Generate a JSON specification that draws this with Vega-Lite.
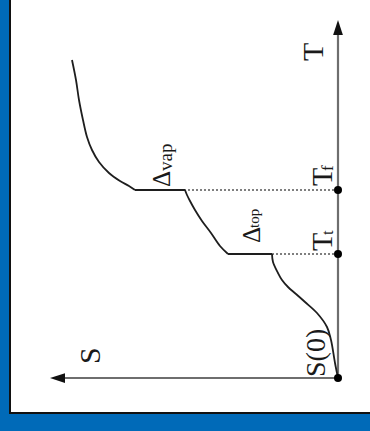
{
  "$schema": "https://vega.github.io/schema/vega-lite/v6.json",
  "width": 362,
  "height": 415,
  "autosize": "none",
  "padding": {"left": 10, "top": -2, "right": -2, "bottom": 18},
  "background": "#006ab8",
  "config": {
    "view": {"fill": "white", "stroke": "#111111", "strokeWidth": 2}
  },
  "encoding": {
    "x": {"field": "S", "type": "quantitative", "scale": {"domain": [-34, 328], "reverse": true, "nice": false, "zero": false}, "axis": null},
    "y": {"field": "T", "type": "quantitative", "scale": {"domain": [-35, 380], "nice": false, "zero": false}, "axis": null}
  },
  "layer": [
    {
      "data": {"values": [
        {"S": 0, "T": 0, "S2": 282, "T2": 0},
        {"S": 0, "T": 0, "S2": 0, "T2": 346}
      ]},
      "mark": {"type": "rule", "color": "#6e6e6e", "strokeWidth": 2.2},
      "encoding": {"x2": {"field": "S2"}, "y2": {"field": "T2"}}
    },
    {
      "data": {"values": [
        {"S": 0, "T": 124, "S2": 66, "T2": 124},
        {"S": 0, "T": 188, "S2": 153, "T2": 188}
      ]},
      "mark": {"type": "rule", "color": "#555555", "strokeWidth": 1.5, "strokeDash": [2, 2]},
      "encoding": {"x2": {"field": "S2"}, "y2": {"field": "T2"}}
    },
    {
      "data": {"values": [
        {"seg": "a", "i": 0, "S": 0, "T": 0},
        {"seg": "a", "i": 1, "S": 3, "T": 15},
        {"seg": "a", "i": 2, "S": 7, "T": 38},
        {"seg": "a", "i": 3, "S": 11, "T": 51},
        {"seg": "a", "i": 4, "S": 21, "T": 65},
        {"seg": "a", "i": 5, "S": 33, "T": 76},
        {"seg": "a", "i": 6, "S": 42, "T": 84},
        {"seg": "a", "i": 7, "S": 50, "T": 91},
        {"seg": "a", "i": 8, "S": 56, "T": 98},
        {"seg": "a", "i": 9, "S": 60, "T": 105},
        {"seg": "a", "i": 10, "S": 65, "T": 116},
        {"seg": "a", "i": 11, "S": 66, "T": 124},
        {"seg": "b", "i": 0, "S": 66, "T": 124},
        {"seg": "b", "i": 1, "S": 110, "T": 124},
        {"seg": "c", "i": 0, "S": 110, "T": 124},
        {"seg": "c", "i": 1, "S": 118, "T": 132},
        {"seg": "c", "i": 2, "S": 127, "T": 145},
        {"seg": "c", "i": 3, "S": 136, "T": 157},
        {"seg": "c", "i": 4, "S": 143, "T": 168},
        {"seg": "c", "i": 5, "S": 148, "T": 177},
        {"seg": "c", "i": 6, "S": 151, "T": 183},
        {"seg": "c", "i": 7, "S": 153, "T": 188},
        {"seg": "d", "i": 0, "S": 153, "T": 188},
        {"seg": "d", "i": 1, "S": 203, "T": 188},
        {"seg": "e", "i": 0, "S": 203, "T": 188},
        {"seg": "e", "i": 1, "S": 209, "T": 192},
        {"seg": "e", "i": 2, "S": 218, "T": 197},
        {"seg": "e", "i": 3, "S": 229, "T": 205},
        {"seg": "e", "i": 4, "S": 239, "T": 216},
        {"seg": "e", "i": 5, "S": 246, "T": 228},
        {"seg": "e", "i": 6, "S": 251, "T": 241},
        {"seg": "e", "i": 7, "S": 255, "T": 258},
        {"seg": "e", "i": 8, "S": 259, "T": 278},
        {"seg": "e", "i": 9, "S": 262, "T": 298},
        {"seg": "e", "i": 10, "S": 266, "T": 318}
      ]},
      "mark": {"type": "line", "color": "#1e1e1e", "strokeWidth": 1.8, "interpolate": "catmull-rom"},
      "encoding": {
        "detail": {"field": "seg", "type": "nominal"},
        "order": {"field": "i", "type": "quantitative"}
      }
    },
    {
      "data": {"values": [
        {"S": 280.5, "T": 0, "dir": "S"},
        {"S": 0, "T": 350.5, "dir": "T"}
      ]},
      "mark": {"type": "point", "filled": true, "size": 225, "color": "#111111", "opacity": 1},
      "encoding": {
        "shape": {"field": "dir", "type": "nominal", "scale": {"domain": ["S", "T"], "range": ["M-1,0L1,-0.65L1,0.65Z", "M0,-1L0.65,1L-0.65,1Z"]}, "legend": null}
      }
    },
    {
      "data": {"values": [
        {"S": 0, "T": 0},
        {"S": 0, "T": 124},
        {"S": 0, "T": 188}
      ]},
      "mark": {"type": "circle", "size": 64, "color": "#000000", "opacity": 1}
    },
    {
      "data": {"values": [
        {"S": 15, "T": 317, "txt": "T"},
        {"S": 6, "T": 127, "txt": "T"},
        {"S": 6, "T": 192, "txt": "T"},
        {"S": 238, "T": 14, "txt": "S"}
      ]},
      "mark": {"type": "text", "angle": 270, "align": "left", "baseline": "alphabetic", "font": "Liberation Serif", "fontSize": 30, "color": "#1a1a1a"},
      "encoding": {"text": {"field": "txt"}}
    },
    {
      "data": {"values": [{"S": 13, "T": 1, "txt": "S(0)"}]},
      "mark": {"type": "text", "angle": 270, "align": "left", "baseline": "alphabetic", "font": "Liberation Serif", "fontSize": 28, "color": "#1a1a1a"},
      "encoding": {"text": {"field": "txt"}}
    },
    {
      "data": {"values": [
        {"S": 78, "T": 135, "txt": "Δ"},
        {"S": 168, "T": 191, "txt": "Δ"}
      ]},
      "mark": {"type": "text", "angle": 270, "align": "left", "baseline": "alphabetic", "font": "Liberation Serif", "fontSize": 25, "color": "#1a1a1a"},
      "encoding": {"text": {"field": "txt"}}
    },
    {
      "data": {"values": [
        {"S": 5, "T": 143, "txt": "t"},
        {"S": 5, "T": 207, "txt": "f"}
      ]},
      "mark": {"type": "text", "angle": 270, "align": "left", "baseline": "alphabetic", "font": "Liberation Serif", "fontSize": 17, "color": "#1a1a1a"},
      "encoding": {"text": {"field": "txt"}}
    },
    {
      "data": {"values": [{"S": 79, "T": 150, "txt": "top"}]},
      "mark": {"type": "text", "angle": 270, "align": "left", "baseline": "alphabetic", "font": "Liberation Serif", "fontSize": 15, "color": "#1a1a1a"},
      "encoding": {"text": {"field": "txt"}}
    },
    {
      "data": {"values": [{"S": 166, "T": 207, "txt": "vap"}]},
      "mark": {"type": "text", "angle": 270, "align": "left", "baseline": "alphabetic", "font": "Liberation Serif", "fontSize": 19, "color": "#1a1a1a"},
      "encoding": {"text": {"field": "txt"}}
    }
  ]
}
